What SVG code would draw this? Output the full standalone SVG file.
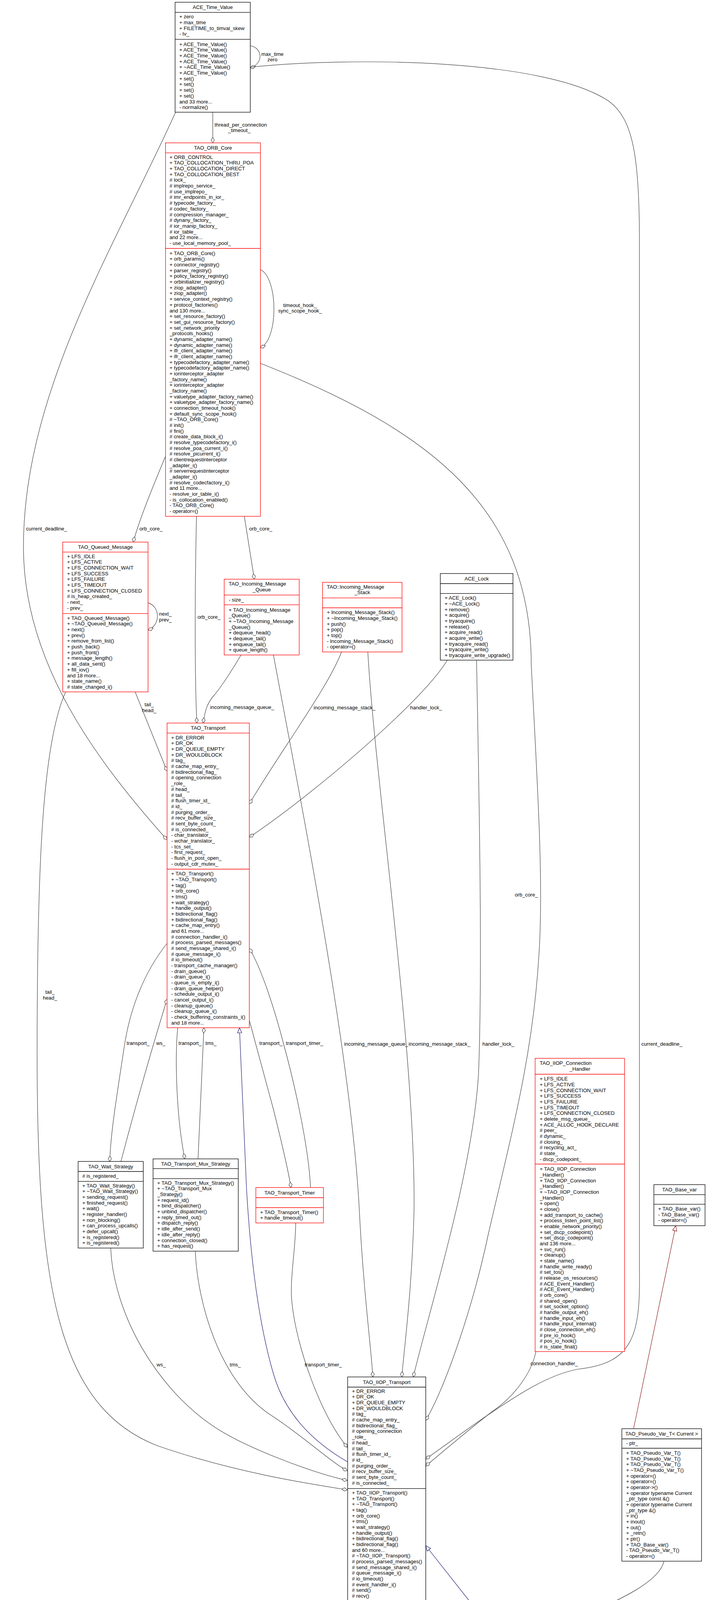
<svg xmlns="http://www.w3.org/2000/svg" width="1810" height="4307" viewBox="0 0 1810 4307">
<style>
.t{font-family:"Liberation Sans",Arial,Helvetica,sans-serif;font-size:13.1px;fill:#000}
.c{text-anchor:middle}
.bk{fill:#fff;stroke:#000;stroke-width:1.3}
.rd{fill:#fff;stroke:#ff0000;stroke-width:1.3}
.gy{fill:#bfbfbf;stroke:#000;stroke-width:1.3}
.sk{stroke:#000;stroke-width:1.3}
.sr{stroke:#ff0000;stroke-width:1.3}
.e{fill:none;stroke:#404040;stroke-width:1.2}
.eb{fill:none;stroke:#191970;stroke-width:1.2}
.er{fill:none;stroke:#8b1a1a;stroke-width:1.2}
</style>
<defs>
<marker id="d" viewBox="0 0 16 10" refX="15" refY="5" markerWidth="16" markerHeight="10" orient="auto" markerUnits="userSpaceOnUse"><path d="M1,5 L8,0.8 L15,5 L8,9.2 Z" fill="#fff" stroke="#404040" stroke-width="1.2"/></marker>
<marker id="tb" viewBox="0 0 16 14" refX="15" refY="7" markerWidth="16" markerHeight="14" orient="auto" markerUnits="userSpaceOnUse"><path d="M2,1.5 L15,7 L2,12.5 Z" fill="#fff" stroke="#191970" stroke-width="1.2"/></marker>
<marker id="tr" viewBox="0 0 16 14" refX="15" refY="7" markerWidth="16" markerHeight="14" orient="auto" markerUnits="userSpaceOnUse"><path d="M2,1.5 L15,7 L2,12.5 Z" fill="#fff" stroke="#8b1a1a" stroke-width="1.2"/></marker>
</defs>
<rect x="0" y="0" width="1810" height="4307" fill="#fff"/>

<g id="connectors">
<path class="e" marker-end="url(#d)" d="M544.7,287.3 L544.7,365.7"/>
<path class="e" marker-end="url(#d)" d="M640.7,117 C672,122 676,162 640.7,174"/>
<path class="e" marker-end="url(#d)" d="M449.5,287.3 C300,620 60,1000 60,1400 C60,1700 250,1950 427.7,2150"/>
<path class="e" marker-end="url(#d)" d="M640.7,172 C900,145 1400,150 1560,260 C1620,305 1636,400 1637,600 L1637,3250 C1640,3420 1620,3490 1480,3505 C1400,3520 1320,3575 1260,3615 C1200,3655 1140,3700 1090,3735"/>
<path class="e" marker-end="url(#d)" d="M666.3,690 C712,710 714,870 666.3,890"/>
<path class="e" marker-end="url(#d)" d="M423.7,1168 C400,1225 360,1320 341,1387.7"/>
<path class="e" marker-end="url(#d)" d="M625.5,1321.7 L651,1482.7"/>
<path class="e" marker-end="url(#d)" d="M503,1321.7 C498,1550 499,1750 504,1851"/>
<path class="e" marker-end="url(#d)" d="M666.3,930 C1100,1100 1360,1300 1360,1700 C1375,2000 1392,2250 1380,2440 C1365,2700 1310,2900 1250,3160 C1210,3350 1140,3550 1090,3636"/>
<path class="e" marker-end="url(#d)" d="M379,1543.3 C410,1552 412,1600 379,1613"/>
<path class="e" marker-end="url(#d)" d="M346,1771.3 L427.7,1974"/>
<path class="e" marker-end="url(#d)" d="M168,1771.3 C110,1900 95,2200 95,2700 C95,3300 150,3600 400,3700 C600,3770 800,3800 889,3814"/>
<path class="e" marker-end="url(#d)" d="M617,1676.7 C595,1715 565,1760 548,1780 C530,1800 525,1820 520,1851"/>
<path class="e" marker-end="url(#d)" d="M700,1676.7 C760,2000 900,2700 920,3100 C930,3300 950,3450 954.6,3525"/>
<path class="e" marker-end="url(#d)" d="M874.3,1669 C840,1760 720,1920 638.3,2058"/>
<path class="e" marker-end="url(#d)" d="M941.7,1669 C960,2000 1065,2700 1060,3100 C1055,3300 1035,3450 1028.6,3525"/>
<path class="e" marker-end="url(#d)" d="M1145,1690 C1080,1800 780,2050 638.3,2143"/>
<path class="e" marker-end="url(#d)" d="M1220,1690 C1228,2100 1235,2500 1225,2750 C1210,3000 1100,3350 1058,3525"/>
<path class="e" marker-end="url(#d)" d="M427.7,2415 C360,2500 330,2600 318,2680 C300,2800 283,2900 281,2973.3"/>
<path class="e" marker-end="url(#d)" d="M309.6,2973.3 C350,2820 390,2680 427.7,2558"/>
<path class="e" marker-end="url(#d)" d="M455,2631 C448,2700 450,2850 473,2966.7"/>
<path class="e" marker-end="url(#d)" d="M507,2966.7 L522,2631"/>
<path class="e" marker-end="url(#d)" d="M638.3,2612 L700,2840 C715,2900 735,2980 745,3040"/>
<path class="e" marker-end="url(#d)" d="M795,3040 C790,2930 750,2760 728,2680 C705,2590 670,2480 638.3,2428"/>
<path class="eb" marker-end="url(#tb)" d="M889,3742 C800,3690 730,3620 700,3517 C660,3380 640,3200 631,3040 C625,2900 618,2750 613,2631"/>
<path class="e" marker-end="url(#d)" d="M757,3130.7 C757,3200 740,3280 748,3340 C760,3450 820,3620 889,3705"/>
<path class="e" marker-end="url(#d)" d="M500,3203 C505,3330 560,3540 700,3627 C780,3680 850,3745 889,3765"/>
<path class="e" marker-end="url(#d)" d="M283.4,3195 C290,3360 400,3560 560,3660 C640,3710 800,3770 889,3790"/>
<path class="e" marker-end="url(#d)" d="M1372,3460 C1360,3520 1310,3580 1262,3612 C1200,3660 1135,3715 1090,3753"/>
<path class="er" marker-end="url(#tr)" d="M1622,3657.5 L1730,3137.8"/>
<path class="eb" marker-end="url(#tb)" d="M1277,4194 L1090,3957"/>
<path class="e" marker-end="url(#d)" d="M1700,3996.6 C1680,4080 1450,4140 1385,4194"/>

<text class="t" x="549.3" y="323.8">thread_per_connection</text>
<text class="t c" x="612.5" y="338.3">_timeout_</text>
<text class="t c" x="697.5" y="142.5">max_time</text>
<text class="t c" x="697.5" y="157.2">zero</text>
<text class="t c" x="768" y="785.5">timeout_hook_</text>
<text class="t c" x="768" y="800.2">sync_scope_hook_</text>
<text class="t" x="66.8" y="1357.5">current_deadline_</text>
<text class="t" x="357" y="1357.5">orb_core_</text>
<text class="t" x="638" y="1357.5">orb_core_</text>
<text class="t" x="505.7" y="1583.5">orb_core_</text>
<text class="t c" x="423.5" y="1576.2">next_</text>
<text class="t c" x="423.5" y="1591.2">prev_</text>
<text class="t c" x="382" y="1807.8">tail_</text>
<text class="t c" x="382" y="1822.8">head_</text>
<text class="t" x="538" y="1815.2">incoming_message_queue_</text>
<text class="t" x="803" y="1815.5">incoming_message_stack_</text>
<text class="t" x="1050" y="1815.5">handler_lock_</text>
<text class="t" x="1318" y="2294.5">orb_core_</text>
<text class="t c" x="128" y="2544">tail_</text>
<text class="t c" x="128" y="2559">head_</text>
<text class="t" x="324" y="2674.5">transport_</text>
<text class="t" x="400" y="2674.5">ws_</text>
<text class="t" x="457" y="2674.5">transport_</text>
<text class="t" x="526" y="2674.5">tms_</text>
<text class="t" x="664" y="2674.5">transport_</text>
<text class="t" x="732" y="2674.5">transport_timer_</text>
<text class="t" x="881" y="2676.5">incoming_message_queue_</text>
<text class="t" x="1046" y="2676.5">incoming_message_stack_</text>
<text class="t" x="1235" y="2676.5">handler_lock_</text>
<text class="t" x="1642" y="2676.5">current_deadline_</text>
<text class="t" x="401" y="3497.5">ws_</text>
<text class="t" x="588" y="3497.5">tms_</text>
<text class="t" x="780" y="3497.5">transport_timer_</text>
<text class="t" x="1358" y="3494.5">connection_handler_</text>
<text class="t" x="1436" y="4165.5">current_</text>
</g>

<g id="ace_time_value">
<rect class="bk" x="448.3" y="5.7" width="192.4" height="281.6"/>
<line class="sk" x1="448.3" y1="31.7" x2="640.7" y2="31.7"/>
<line class="sk" x1="448.3" y1="100.7" x2="640.7" y2="100.7"/>
<text class="t c" x="544.5" y="23.2">ACE_Time_Value</text>
<text class="t" x="459" y="47.2"><tspan x="459">+ zero</tspan><tspan x="459" dy="14.67">+ max_time</tspan><tspan x="459" dy="14.67">+ FILETIME_to_timval_skew</tspan><tspan x="459" dy="14.67">- tv_</tspan></text>
<text class="t" x="459" y="117.8"><tspan x="459">+ ACE_Time_Value()</tspan><tspan x="459" dy="14.67">+ ACE_Time_Value()</tspan><tspan x="459" dy="14.67">+ ACE_Time_Value()</tspan><tspan x="459" dy="14.67">+ ACE_Time_Value()</tspan><tspan x="459" dy="14.67">+ ~ACE_Time_Value()</tspan><tspan x="459" dy="14.67">+ ACE_Time_Value()</tspan><tspan x="459" dy="14.67">+ set()</tspan><tspan x="459" dy="14.67">+ set()</tspan><tspan x="459" dy="14.67">+ set()</tspan><tspan x="459" dy="14.67">+ set()</tspan><tspan x="459" dy="14.67">and 33 more...</tspan><tspan x="459" dy="14.67">- normalize()</tspan></text>
</g>

<g id="tao_orb_core">
<rect class="rd" x="423.7" y="365.7" width="243" height="956"/>
<line class="sr" x1="423.7" y1="391.3" x2="666.7" y2="391.3"/>
<line class="sr" x1="423.7" y1="636" x2="666.7" y2="636"/>
<text class="t c" x="545.2" y="383">TAO_ORB_Core</text>
<text class="t" x="434" y="406.8"><tspan x="434">+ ORB_CONTROL</tspan><tspan x="434" dy="14.67">+ TAO_COLLOCATION_THRU_POA</tspan><tspan x="434" dy="14.67">+ TAO_COLLOCATION_DIRECT</tspan><tspan x="434" dy="14.67">+ TAO_COLLOCATION_BEST</tspan><tspan x="434" dy="14.67"># lock_</tspan><tspan x="434" dy="14.67"># implrepo_service_</tspan><tspan x="434" dy="14.67"># use_implrepo_</tspan><tspan x="434" dy="14.67"># imr_endpoints_in_ior_</tspan><tspan x="434" dy="14.67"># typecode_factory_</tspan><tspan x="434" dy="14.67"># codec_factory_</tspan><tspan x="434" dy="14.67"># compression_manager_</tspan><tspan x="434" dy="14.67"># dynany_factory_</tspan><tspan x="434" dy="14.67"># ior_manip_factory_</tspan><tspan x="434" dy="14.67"># ior_table_</tspan><tspan x="434" dy="14.67">and 22 more...</tspan><tspan x="434" dy="14.67">- use_local_memory_pool_</tspan></text>
<text class="t" x="434" y="652.8"><tspan x="434">+ TAO_ORB_Core()</tspan><tspan x="434" dy="14.67">+ orb_params()</tspan><tspan x="434" dy="14.67">+ connector_registry()</tspan><tspan x="434" dy="14.67">+ parser_registry()</tspan><tspan x="434" dy="14.67">+ policy_factory_registry()</tspan><tspan x="434" dy="14.67">+ orbinitializer_registry()</tspan><tspan x="434" dy="14.67">+ ziop_adapter()</tspan><tspan x="434" dy="14.67">+ ziop_adapter()</tspan><tspan x="434" dy="14.67">+ service_context_registry()</tspan><tspan x="434" dy="14.67">+ protocol_factories()</tspan><tspan x="434" dy="14.67">and 130 more...</tspan><tspan x="434" dy="14.67">+ set_resource_factory()</tspan><tspan x="434" dy="14.67">+ set_gui_resource_factory()</tspan><tspan x="434" dy="14.67">+ set_network_priority</tspan><tspan x="434" dy="14.67">_protocols_hooks()</tspan><tspan x="434" dy="14.67">+ dynamic_adapter_name()</tspan><tspan x="434" dy="14.67">+ dynamic_adapter_name()</tspan><tspan x="434" dy="14.67">+ ifr_client_adapter_name()</tspan><tspan x="434" dy="14.67">+ ifr_client_adapter_name()</tspan><tspan x="434" dy="14.67">+ typecodefactory_adapter_name()</tspan><tspan x="434" dy="14.67">+ typecodefactory_adapter_name()</tspan><tspan x="434" dy="14.67">+ iorinterceptor_adapter</tspan><tspan x="434" dy="14.67">_factory_name()</tspan><tspan x="434" dy="14.67">+ iorinterceptor_adapter</tspan><tspan x="434" dy="14.67">_factory_name()</tspan><tspan x="434" dy="14.67">+ valuetype_adapter_factory_name()</tspan><tspan x="434" dy="14.67">+ valuetype_adapter_factory_name()</tspan><tspan x="434" dy="14.67">+ connection_timeout_hook()</tspan><tspan x="434" dy="14.67">+ default_sync_scope_hook()</tspan><tspan x="434" dy="14.67"># ~TAO_ORB_Core()</tspan><tspan x="434" dy="14.67"># init()</tspan><tspan x="434" dy="14.67"># fini()</tspan><tspan x="434" dy="14.67"># create_data_block_i()</tspan><tspan x="434" dy="14.67"># resolve_typecodefactory_i()</tspan><tspan x="434" dy="14.67"># resolve_poa_current_i()</tspan><tspan x="434" dy="14.67"># resolve_picurrent_i()</tspan><tspan x="434" dy="14.67"># clientrequestinterceptor</tspan><tspan x="434" dy="14.67">_adapter_i()</tspan><tspan x="434" dy="14.67"># serverrequestinterceptor</tspan><tspan x="434" dy="14.67">_adapter_i()</tspan><tspan x="434" dy="14.67"># resolve_codecfactory_i()</tspan><tspan x="434" dy="14.67">and 11 more...</tspan><tspan x="434" dy="14.67">- resolve_ior_table_i()</tspan><tspan x="434" dy="14.67">- is_collocation_enabled()</tspan><tspan x="434" dy="14.67">- TAO_ORB_Core()</tspan><tspan x="434" dy="14.67">- operator=()</tspan></text>
</g>

<g id="tao_queued_message">
<rect class="rd" x="160.6" y="1387.7" width="218.4" height="383.6"/>
<line class="sr" x1="160.6" y1="1413.3" x2="379" y2="1413.3"/>
<line class="sr" x1="160.6" y1="1570.7" x2="379" y2="1570.7"/>
<text class="t c" x="269.8" y="1405">TAO_Queued_Message</text>
<text class="t" x="171.7" y="1428.8"><tspan x="171.7">+ LFS_IDLE</tspan><tspan x="171.7" dy="14.67">+ LFS_ACTIVE</tspan><tspan x="171.7" dy="14.67">+ LFS_CONNECTION_WAIT</tspan><tspan x="171.7" dy="14.67">+ LFS_SUCCESS</tspan><tspan x="171.7" dy="14.67">+ LFS_FAILURE</tspan><tspan x="171.7" dy="14.67">+ LFS_TIMEOUT</tspan><tspan x="171.7" dy="14.67">+ LFS_CONNECTION_CLOSED</tspan><tspan x="171.7" dy="14.67"># is_heap_created_</tspan><tspan x="171.7" dy="14.67">- next_</tspan><tspan x="171.7" dy="14.67">- prev_</tspan></text>
<text class="t" x="171.7" y="1586.8"><tspan x="171.7">+ TAO_Queued_Message()</tspan><tspan x="171.7" dy="14.67">+ ~TAO_Queued_Message()</tspan><tspan x="171.7" dy="14.67">+ next()</tspan><tspan x="171.7" dy="14.67">+ prev()</tspan><tspan x="171.7" dy="14.67">+ remove_from_list()</tspan><tspan x="171.7" dy="14.67">+ push_back()</tspan><tspan x="171.7" dy="14.67">+ push_front()</tspan><tspan x="171.7" dy="14.67">+ message_length()</tspan><tspan x="171.7" dy="14.67">+ all_data_sent()</tspan><tspan x="171.7" dy="14.67">+ fill_iov()</tspan><tspan x="171.7" dy="14.67">and 18 more...</tspan><tspan x="171.7" dy="14.67">+ state_name()</tspan><tspan x="171.7" dy="14.67"># state_changed_i()</tspan></text>
</g>

<g id="tao_incoming_message_queue">
<rect class="rd" x="574" y="1482.7" width="192" height="194"/>
<line class="sr" x1="574" y1="1523.3" x2="766" y2="1523.3"/>
<line class="sr" x1="574" y1="1548.3" x2="766" y2="1548.3"/>
<text class="t" x="585.6" y="1498.5">TAO_Incoming_Message</text>
<text class="t c" x="670" y="1513.8">_Queue</text>
<text class="t" x="585.6" y="1539.5">- size_</text>
<text class="t" x="585.6" y="1565.5"><tspan x="585.6">+ TAO_Incoming_Message</tspan><tspan x="585.6" dy="14.67">_Queue()</tspan><tspan x="585.6" dy="14.67">+ ~TAO_Incoming_Message</tspan><tspan x="585.6" dy="14.67">_Queue()</tspan><tspan x="585.6" dy="14.67">+ dequeue_head()</tspan><tspan x="585.6" dy="14.67">+ dequeue_tail()</tspan><tspan x="585.6" dy="14.67">+ enqueue_tail()</tspan><tspan x="585.6" dy="14.67">+ queue_length()</tspan></text>
</g>

<g id="tao_incoming_message_stack">
<rect class="rd" x="825.7" y="1490.7" width="203.6" height="178.3"/>
<line class="sr" x1="825.7" y1="1530.7" x2="1029.3" y2="1530.7"/>
<line class="sr" x1="825.7" y1="1556" x2="1029.3" y2="1556"/>
<text class="t" x="836.7" y="1507.2">TAO::Incoming_Message</text>
<text class="t c" x="927.5" y="1521.2">_Stack</text>
<text class="t" x="836.7" y="1572.2"><tspan x="836.7">+ Incoming_Message_Stack()</tspan><tspan x="836.7" dy="14.67">+ ~Incoming_Message_Stack()</tspan><tspan x="836.7" dy="14.67">+ push()</tspan><tspan x="836.7" dy="14.67">+ pop()</tspan><tspan x="836.7" dy="14.67">+ top()</tspan><tspan x="836.7" dy="14.67">- Incoming_Message_Stack()</tspan><tspan x="836.7" dy="14.67">- operator=()</tspan></text>
</g>

<g id="ace_lock">
<rect class="bk" x="1127.3" y="1468.3" width="186" height="221.7"/>
<line class="sk" x1="1127.3" y1="1494" x2="1313.3" y2="1494"/>
<line class="sk" x1="1127.3" y1="1519.3" x2="1313.3" y2="1519.3"/>
<text class="t c" x="1220.3" y="1485.7">ACE_Lock</text>
<text class="t" x="1138.3" y="1535.2"><tspan x="1138.3">+ ACE_Lock()</tspan><tspan x="1138.3" dy="14.67">+ ~ACE_Lock()</tspan><tspan x="1138.3" dy="14.67">+ remove()</tspan><tspan x="1138.3" dy="14.67">+ acquire()</tspan><tspan x="1138.3" dy="14.67">+ tryacquire()</tspan><tspan x="1138.3" dy="14.67">+ release()</tspan><tspan x="1138.3" dy="14.67">+ acquire_read()</tspan><tspan x="1138.3" dy="14.67">+ acquire_write()</tspan><tspan x="1138.3" dy="14.67">+ tryacquire_read()</tspan><tspan x="1138.3" dy="14.67">+ tryacquire_write()</tspan><tspan x="1138.3" dy="14.67">+ tryacquire_write_upgrade()</tspan></text>
</g>

<g id="tao_transport">
<rect class="rd" x="427.7" y="1851" width="210.6" height="780"/>
<line class="sr" x1="427.7" y1="1876.7" x2="638.3" y2="1876.7"/>
<line class="sr" x1="427.7" y1="2225" x2="638.3" y2="2225"/>
<text class="t c" x="533" y="1868.4">TAO_Transport</text>
<text class="t" x="438.3" y="1892.8"><tspan x="438.3">+ DR_ERROR</tspan><tspan x="438.3" dy="14.67">+ DR_OK</tspan><tspan x="438.3" dy="14.67">+ DR_QUEUE_EMPTY</tspan><tspan x="438.3" dy="14.67">+ DR_WOULDBLOCK</tspan><tspan x="438.3" dy="14.67"># tag_</tspan><tspan x="438.3" dy="14.67"># cache_map_entry_</tspan><tspan x="438.3" dy="14.67"># bidirectional_flag_</tspan><tspan x="438.3" dy="14.67"># opening_connection</tspan><tspan x="438.3" dy="14.67">_role_</tspan><tspan x="438.3" dy="14.67"># head_</tspan><tspan x="438.3" dy="14.67"># tail_</tspan><tspan x="438.3" dy="14.67"># flush_timer_id_</tspan><tspan x="438.3" dy="14.67"># id_</tspan><tspan x="438.3" dy="14.67"># purging_order_</tspan><tspan x="438.3" dy="14.67"># recv_buffer_size_</tspan><tspan x="438.3" dy="14.67"># sent_byte_count_</tspan><tspan x="438.3" dy="14.67"># is_connected_</tspan><tspan x="438.3" dy="14.67">- char_translator_</tspan><tspan x="438.3" dy="14.67">- wchar_translator_</tspan><tspan x="438.3" dy="14.67">- tcs_set_</tspan><tspan x="438.3" dy="14.67">- first_request_</tspan><tspan x="438.3" dy="14.67">- flush_in_post_open_</tspan><tspan x="438.3" dy="14.67">- output_cdr_mutex_</tspan></text>
<text class="t" x="438.3" y="2241.2"><tspan x="438.3">+ TAO_Transport()</tspan><tspan x="438.3" dy="14.67">+ ~TAO_Transport()</tspan><tspan x="438.3" dy="14.67">+ tag()</tspan><tspan x="438.3" dy="14.67">+ orb_core()</tspan><tspan x="438.3" dy="14.67">+ tms()</tspan><tspan x="438.3" dy="14.67">+ wait_strategy()</tspan><tspan x="438.3" dy="14.67">+ handle_output()</tspan><tspan x="438.3" dy="14.67">+ bidirectional_flag()</tspan><tspan x="438.3" dy="14.67">+ bidirectional_flag()</tspan><tspan x="438.3" dy="14.67">+ cache_map_entry()</tspan><tspan x="438.3" dy="14.67">and 61 more...</tspan><tspan x="438.3" dy="14.67"># connection_handler_i()</tspan><tspan x="438.3" dy="14.67"># process_parsed_messages()</tspan><tspan x="438.3" dy="14.67"># send_message_shared_i()</tspan><tspan x="438.3" dy="14.67"># queue_message_i()</tspan><tspan x="438.3" dy="14.67"># io_timeout()</tspan><tspan x="438.3" dy="14.67">- transport_cache_manager()</tspan><tspan x="438.3" dy="14.67">- drain_queue()</tspan><tspan x="438.3" dy="14.67">- drain_queue_i()</tspan><tspan x="438.3" dy="14.67">- queue_is_empty_i()</tspan><tspan x="438.3" dy="14.67">- drain_queue_helper()</tspan><tspan x="438.3" dy="14.67">- schedule_output_i()</tspan><tspan x="438.3" dy="14.67">- cancel_output_i()</tspan><tspan x="438.3" dy="14.67">- cleanup_queue()</tspan><tspan x="438.3" dy="14.67">- cleanup_queue_i()</tspan><tspan x="438.3" dy="14.67">- check_buffering_constraints_i()</tspan><tspan x="438.3" dy="14.67">and 18 more...</tspan></text>
</g>

<g id="tao_wait_strategy">
<rect class="bk" x="200" y="2973.3" width="166.8" height="221.7"/>
<line class="sk" x1="200" y1="2999" x2="366.8" y2="2999"/>
<line class="sk" x1="200" y1="3024.3" x2="366.8" y2="3024.3"/>
<text class="t c" x="283.4" y="2990.7">TAO_Wait_Strategy</text>
<text class="t" x="210.7" y="3015.2"># is_registered_</text>
<text class="t" x="210.7" y="3039.5"><tspan x="210.7">+ TAO_Wait_Strategy()</tspan><tspan x="210.7" dy="14.67">+ ~TAO_Wait_Strategy()</tspan><tspan x="210.7" dy="14.67">+ sending_request()</tspan><tspan x="210.7" dy="14.67">+ finished_request()</tspan><tspan x="210.7" dy="14.67">+ wait()</tspan><tspan x="210.7" dy="14.67">+ register_handler()</tspan><tspan x="210.7" dy="14.67">+ non_blocking()</tspan><tspan x="210.7" dy="14.67">+ can_process_upcalls()</tspan><tspan x="210.7" dy="14.67">+ defer_upcall()</tspan><tspan x="210.7" dy="14.67">+ is_registered()</tspan><tspan x="210.7" dy="14.67">+ is_registered()</tspan></text>
</g>

<g id="tao_transport_mux_strategy">
<rect class="bk" x="391.8" y="2966.7" width="218.2" height="236.3"/>
<line class="sk" x1="391.8" y1="2991.7" x2="610" y2="2991.7"/>
<line class="sk" x1="391.8" y1="3017.3" x2="610" y2="3017.3"/>
<text class="t c" x="500.9" y="2983.7">TAO_Transport_Mux_Strategy</text>
<text class="t" x="402.5" y="3032.8"><tspan x="402.5">+ TAO_Transport_Mux_Strategy()</tspan><tspan x="402.5" dy="14.67">+ ~TAO_Transport_Mux</tspan><tspan x="402.5" dy="14.67">_Strategy()</tspan><tspan x="402.5" dy="14.67">+ request_id()</tspan><tspan x="402.5" dy="14.67">+ bind_dispatcher()</tspan><tspan x="402.5" dy="14.67">+ unbind_dispatcher()</tspan><tspan x="402.5" dy="14.67">+ reply_timed_out()</tspan><tspan x="402.5" dy="14.67">+ dispatch_reply()</tspan><tspan x="402.5" dy="14.67">+ idle_after_send()</tspan><tspan x="402.5" dy="14.67">+ idle_after_reply()</tspan><tspan x="402.5" dy="14.67">+ connection_closed()</tspan><tspan x="402.5" dy="14.67">+ has_request()</tspan></text>
</g>

<g id="tao_transport_timer">
<rect class="rd" x="655" y="3040" width="173" height="90.7"/>
<line class="sr" x1="655" y1="3066" x2="828" y2="3066"/>
<line class="sr" x1="655" y1="3091.5" x2="828" y2="3091.5"/>
<text class="t c" x="741.5" y="3057.5">TAO_Transport_Timer</text>
<text class="t" x="666" y="3107.5"><tspan x="666">+ TAO_Transport_Timer()</tspan><tspan x="666" dy="14.67">+ handle_timeout()</tspan></text>
</g>

<g id="tao_iiop_connection_handler">
<rect class="rd" x="1370" y="2709.3" width="229" height="750.7"/>
<line class="sr" x1="1370" y1="2750" x2="1599" y2="2750"/>
<line class="sr" x1="1370" y1="2980" x2="1599" y2="2980"/>
<text class="t" x="1381.7" y="2726.2">TAO_IIOP_Connection</text>
<text class="t c" x="1484.5" y="2740.8">_Handler</text>
<text class="t" x="1381.7" y="2766.2"><tspan x="1381.7">+ LFS_IDLE</tspan><tspan x="1381.7" dy="14.67">+ LFS_ACTIVE</tspan><tspan x="1381.7" dy="14.67">+ LFS_CONNECTION_WAIT</tspan><tspan x="1381.7" dy="14.67">+ LFS_SUCCESS</tspan><tspan x="1381.7" dy="14.67">+ LFS_FAILURE</tspan><tspan x="1381.7" dy="14.67">+ LFS_TIMEOUT</tspan><tspan x="1381.7" dy="14.67">+ LFS_CONNECTION_CLOSED</tspan><tspan x="1381.7" dy="14.67">+ delete_msg_queue_</tspan><tspan x="1381.7" dy="14.67">+ ACE_ALLOC_HOOK_DECLARE</tspan><tspan x="1381.7" dy="14.67"># peer_</tspan><tspan x="1381.7" dy="14.67"># dynamic_</tspan><tspan x="1381.7" dy="14.67"># closing_</tspan><tspan x="1381.7" dy="14.67"># recycling_act_</tspan><tspan x="1381.7" dy="14.67"># state_</tspan><tspan x="1381.7" dy="14.67">- dscp_codepoint_</tspan></text>
<text class="t" x="1381.7" y="2997.2"><tspan x="1381.7">+ TAO_IIOP_Connection</tspan><tspan x="1381.7" dy="14.67">_Handler()</tspan><tspan x="1381.7" dy="14.67">+ TAO_IIOP_Connection</tspan><tspan x="1381.7" dy="14.67">_Handler()</tspan><tspan x="1381.7" dy="14.67">+ ~TAO_IIOP_Connection</tspan><tspan x="1381.7" dy="14.67">_Handler()</tspan><tspan x="1381.7" dy="14.67">+ open()</tspan><tspan x="1381.7" dy="14.67">+ close()</tspan><tspan x="1381.7" dy="14.67">+ add_transport_to_cache()</tspan><tspan x="1381.7" dy="14.67">+ process_listen_point_list()</tspan><tspan x="1381.7" dy="14.67">+ enable_network_priority()</tspan><tspan x="1381.7" dy="14.67">+ set_dscp_codepoint()</tspan><tspan x="1381.7" dy="14.67">+ set_dscp_codepoint()</tspan><tspan x="1381.7" dy="14.67">and 136 more...</tspan><tspan x="1381.7" dy="14.67">+ svc_run()</tspan><tspan x="1381.7" dy="14.67">+ cleanup()</tspan><tspan x="1381.7" dy="14.67">+ state_name()</tspan><tspan x="1381.7" dy="14.67"># handle_write_ready()</tspan><tspan x="1381.7" dy="14.67"># set_tos()</tspan><tspan x="1381.7" dy="14.67"># release_os_resources()</tspan><tspan x="1381.7" dy="14.67"># ACE_Event_Handler()</tspan><tspan x="1381.7" dy="14.67"># ACE_Event_Handler()</tspan><tspan x="1381.7" dy="14.67"># orb_core()</tspan><tspan x="1381.7" dy="14.67"># shared_open()</tspan><tspan x="1381.7" dy="14.67"># set_socket_option()</tspan><tspan x="1381.7" dy="14.67"># handle_output_eh()</tspan><tspan x="1381.7" dy="14.67"># handle_input_eh()</tspan><tspan x="1381.7" dy="14.67"># handle_input_internal()</tspan><tspan x="1381.7" dy="14.67"># close_connection_eh()</tspan><tspan x="1381.7" dy="14.67"># pre_io_hook()</tspan><tspan x="1381.7" dy="14.67"># pos_io_hook()</tspan><tspan x="1381.7" dy="14.67"># is_state_final()</tspan></text>
</g>

<g id="tao_base_var">
<rect class="bk" x="1674" y="3032.6" width="131" height="105.2"/>
<line class="sk" x1="1674" y1="3058.3" x2="1805" y2="3058.3"/>
<line class="sk" x1="1674" y1="3082.8" x2="1805" y2="3082.8"/>
<text class="t c" x="1739.5" y="3050">TAO_Base_var</text>
<text class="t" x="1685" y="3098.9"><tspan x="1685">+ TAO_Base_var()</tspan><tspan x="1685" dy="14.67">- TAO_Base_var()</tspan><tspan x="1685" dy="14.67">- operator=()</tspan></text>
</g>

<g id="tao_pseudo_var_t">
<rect class="bk" x="1592" y="3657.5" width="204" height="339.1"/>
<line class="sk" x1="1592" y1="3683.5" x2="1796" y2="3683.5"/>
<line class="sk" x1="1592" y1="3707.5" x2="1796" y2="3707.5"/>
<text class="t c" x="1694" y="3675">TAO_Pseudo_Var_T&lt; Current &gt;</text>
<text class="t" x="1603" y="3699">- ptr_</text>
<text class="t" x="1603" y="3724"><tspan x="1603">+ TAO_Pseudo_Var_T()</tspan><tspan x="1603" dy="14.67">+ TAO_Pseudo_Var_T()</tspan><tspan x="1603" dy="14.67">+ TAO_Pseudo_Var_T()</tspan><tspan x="1603" dy="14.67">+ ~TAO_Pseudo_Var_T()</tspan><tspan x="1603" dy="14.67">+ operator=()</tspan><tspan x="1603" dy="14.67">+ operator=()</tspan><tspan x="1603" dy="14.67">+ operator-&gt;()</tspan><tspan x="1603" dy="14.67">+ operator typename Current</tspan><tspan x="1603" dy="14.67">_ptr_type const &amp;()</tspan><tspan x="1603" dy="14.67">+ operator typename Current</tspan><tspan x="1603" dy="14.67">_ptr_type &amp;()</tspan><tspan x="1603" dy="14.67">+ in()</tspan><tspan x="1603" dy="14.67">+ inout()</tspan><tspan x="1603" dy="14.67">+ out()</tspan><tspan x="1603" dy="14.67">+ _retn()</tspan><tspan x="1603" dy="14.67">+ ptr()</tspan><tspan x="1603" dy="14.67">+ TAO_Base_var()</tspan><tspan x="1603" dy="14.67">- TAO_Pseudo_Var_T()</tspan><tspan x="1603" dy="14.67">- operator=()</tspan></text>
</g>

<g id="tao_iiop_transport">
<rect class="bk" x="890" y="3525" width="200" height="604"/>
<line class="sk" x1="890" y1="3551" x2="1090" y2="3551"/>
<line class="sk" x1="890" y1="3810.6" x2="1090" y2="3810.6"/>
<text class="t c" x="990" y="3542.5">TAO_IIOP_Transport</text>
<text class="t" x="901" y="3565.8"><tspan x="901">+ DR_ERROR</tspan><tspan x="901" dy="14.67">+ DR_OK</tspan><tspan x="901" dy="14.67">+ DR_QUEUE_EMPTY</tspan><tspan x="901" dy="14.67">+ DR_WOULDBLOCK</tspan><tspan x="901" dy="14.67"># tag_</tspan><tspan x="901" dy="14.67"># cache_map_entry_</tspan><tspan x="901" dy="14.67"># bidirectional_flag_</tspan><tspan x="901" dy="14.67"># opening_connection</tspan><tspan x="901" dy="14.67">_role_</tspan><tspan x="901" dy="14.67"># head_</tspan><tspan x="901" dy="14.67"># tail_</tspan><tspan x="901" dy="14.67"># flush_timer_id_</tspan><tspan x="901" dy="14.67"># id_</tspan><tspan x="901" dy="14.67"># purging_order_</tspan><tspan x="901" dy="14.67"># recv_buffer_size_</tspan><tspan x="901" dy="14.67"># sent_byte_count_</tspan><tspan x="901" dy="14.67"># is_connected_</tspan></text>
<text class="t" x="901" y="3825.9"><tspan x="901">+ TAO_IIOP_Transport()</tspan><tspan x="901" dy="14.67">+ TAO_Transport()</tspan><tspan x="901" dy="14.67">+ ~TAO_Transport()</tspan><tspan x="901" dy="14.67">+ tag()</tspan><tspan x="901" dy="14.67">+ orb_core()</tspan><tspan x="901" dy="14.67">+ tms()</tspan><tspan x="901" dy="14.67">+ wait_strategy()</tspan><tspan x="901" dy="14.67">+ handle_output()</tspan><tspan x="901" dy="14.67">+ bidirectional_flag()</tspan><tspan x="901" dy="14.67">+ bidirectional_flag()</tspan><tspan x="901" dy="14.67">and 60 more...</tspan><tspan x="901" dy="14.67"># ~TAO_IIOP_Transport()</tspan><tspan x="901" dy="14.67"># process_parsed_messages()</tspan><tspan x="901" dy="14.67"># send_message_shared_i()</tspan><tspan x="901" dy="14.67"># queue_message_i()</tspan><tspan x="901" dy="14.67"># io_timeout()</tspan><tspan x="901" dy="14.67"># event_handler_i()</tspan><tspan x="901" dy="14.67"># send()</tspan><tspan x="901" dy="14.67"># recv()</tspan><tspan x="901" dy="14.67">- set_bidir_context_info()</tspan><tspan x="901" dy="14.67">- get_listen_point()</tspan></text>
</g>

<g id="tao_iiop_ssl_transport">
<rect class="gy" x="1229.6" y="4194" width="179" height="105"/>
<line class="sk" x1="1229.6" y1="4219.6" x2="1408.6" y2="4219.6"/>
<line class="sk" x1="1229.6" y1="4244" x2="1408.6" y2="4244"/>
<text class="t c" x="1319.1" y="4211.3">TAO::IIOP_SSL_Transport</text>
<text class="t" x="1240.5" y="4261.2"><tspan x="1240.5">+ IIOP_SSL_Transport()</tspan><tspan x="1240.5" dy="14.67">+ ~IIOP_SSL_Transport()</tspan><tspan x="1240.5" dy="14.67">+ handle_input()</tspan></text>
</g>
</svg>
